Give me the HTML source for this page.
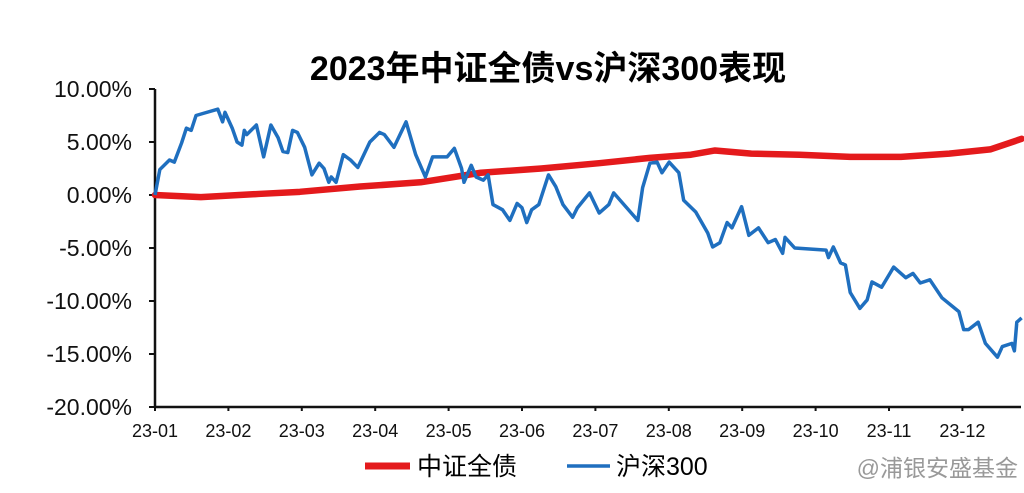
<!DOCTYPE html>
<html><head><meta charset="utf-8"><style>
body{margin:0;background:#fff;}
svg{display:block;font-family:"Liberation Sans","Noto Sans CJK SC",sans-serif;}
</style></head><body>
<svg width="1024" height="493">
<text x="548" y="80" text-anchor="middle" font-size="34" font-weight="bold" fill="#000">2023年中证全债vs沪深300表现</text>
<g id="axes"></g>
<g id="series"></g>
<g>
<line x1="365" y1="466" x2="410" y2="466" stroke="#e41a1c" stroke-width="7"/>
<text x="417" y="475" font-size="25">中证全债</text>
<line x1="567" y1="466" x2="610" y2="466" stroke="#1f6fbf" stroke-width="3.5"/>
<text x="616" y="475" font-size="25">沪深300</text>
</g>
<text x="1018" y="476" text-anchor="end" font-size="23" fill="#999">@浦银安盛基金</text>
</svg>
<script>
const yTicks=[10,5,0,-5,-10,-15,-20];
const yTickLabels=["10.00%","5.00%","0.00%","-5.00%","-10.00%","-15.00%","-20.00%"];
const xTickLabels=["23-01","23-02","23-03","23-04","23-05","23-06","23-07","23-08","23-09","23-10","23-11","23-12"];
const csiDays=[0,2,6,8,11,13,15,17,20,26,28,29,32,34,36,37,38,42,45,48,51,53,55,57,59,62,65,68,70,72,73,75,78,81,84,89,93,95,99,104,108,112,115,121,124,127,128,131,133,136,138,140,144,147,150,152,154,156,159,163,166,169,173,175,180,184,188,190,200,202,205,208,210,213,217,219,224,229,231,234,237,239,243,246,250,254,257,260,261,265,278,279,281,284,286,288,292,295,297,301,306,311,314,317,321,326,333,335,337,341,344,349,351,355,356,357,359];
const csiValues=[0,2.4,3.3,3.1,4.9,6.3,6.1,7.5,7.7,8.1,6.9,7.8,6.3,5.0,4.7,6.1,5.7,6.6,3.6,6.6,5.4,4.1,4.0,6.1,5.9,4.5,1.9,3.0,2.5,1.2,1.7,1.2,3.8,3.3,2.6,5.0,5.9,5.7,4.5,6.9,3.8,1.7,3.6,3.6,4.4,2.5,1.2,2.8,1.7,1.4,1.9,-0.9,-1.4,-2.4,-0.8,-1.2,-2.6,-1.4,-0.9,1.9,0.8,-0.9,-2.1,-1.2,0.2,-1.7,-0.9,0.2,-2.4,0.7,3.0,3.1,2.1,3.1,2.1,-0.5,-1.6,-3.6,-4.9,-4.5,-2.6,-3.1,-1.1,-3.8,-3.1,-4.5,-4.2,-5.5,-4.0,-5.0,-5.2,-5.9,-4.9,-6.4,-6.6,-9.2,-10.7,-9.9,-8.2,-8.7,-6.8,-7.8,-7.4,-8.3,-8.0,-9.7,-11.0,-12.7,-12.7,-12.0,-14.0,-15.3,-14.3,-14.0,-14.7,-12.0,-11.6];
const bondDays=[0,19,43,60,85,110,135,160,184,205,222,232,247,267,288,309,329,346,359];
const bondValues=[0,-0.2,0.1,0.3,0.8,1.2,2.1,2.5,3.0,3.5,3.8,4.2,3.9,3.8,3.6,3.6,3.9,4.3,5.3];

const NS="http://www.w3.org/2000/svg";
const x0=155,dayW=2.414,monthW=73.4,yZero=195,pct=10.6;
const xs=d=>x0+d*dayW, xm=m=>x0+m*monthW, ys=v=>yZero-v*pct;
function mk(tag,attrs,parent){const e=document.createElementNS(NS,tag);for(const k in attrs)e.setAttribute(k,attrs[k]);parent.appendChild(e);return e;}
const axes=document.getElementById('axes');
const yAxis=mk('line',{x1:x0,y1:ys(10),x2:x0,y2:ys(-20),stroke:'#111','stroke-width':2.5},axes);


const xAxis=mk('line',{x1:x0,y1:ys(-20),x2:1021,y2:ys(-20),stroke:'#111','stroke-width':2.5},axes);


yTicks.forEach((v,i)=>{
 const t=mk('line',{x1:x0-6,y1:ys(v),x2:x0,y2:ys(v),stroke:'#111','stroke-width':2},axes);
 
 
 const l=mk('text',{x:132,y:ys(v)+8,'text-anchor':'end','font-size':23,fill:'#111'},axes);
 l.textContent=yTickLabels[i];
 
 
});
xTickLabels.forEach((s,i)=>{
 const t=mk('line',{x1:xm(i),y1:ys(-20),x2:xm(i),y2:ys(-20)+4,stroke:'#111','stroke-width':2},axes);
 
 
 const l=mk('text',{x:xm(i),y:ys(-20)+30,'text-anchor':'middle','font-size':18,fill:'#111'},axes);
 l.textContent=s;
 
 
});
const ser=document.getElementById('series');
const pb=mk('polyline',{points:bondDays.map((d,i)=>xs(d)+','+ys(bondValues[i])).join(' '),fill:'none',stroke:'#e41a1c','stroke-width':6.5,'stroke-linejoin':'round','stroke-linecap':'round'},ser);


const pc=mk('polyline',{points:csiDays.map((d,i)=>xs(d)+','+ys(csiValues[i])).join(' '),fill:'none',stroke:'#1f6fbf','stroke-width':3.5,'stroke-linejoin':'round'},ser);


</script>
</body></html>
